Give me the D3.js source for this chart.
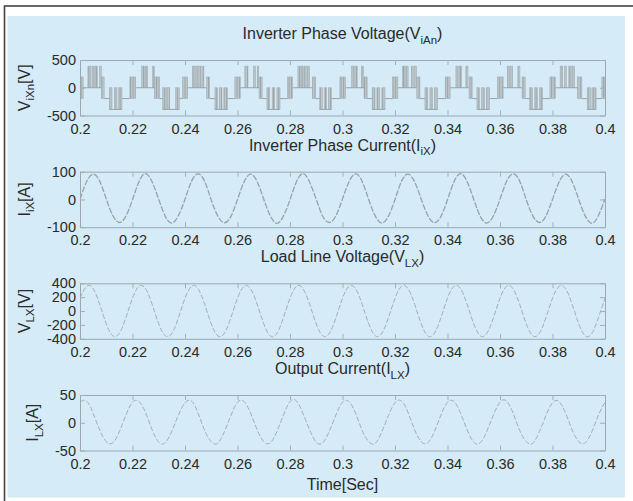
<!DOCTYPE html>
<html>
<head>
<meta charset="utf-8">
<script src="https://cdn.jsdelivr.net/npm/d3@7"></script>
<style>
  body { margin: 0; background: #fff; }
  text { font-family: "Liberation Sans", Arial, sans-serif; fill: #2a2a2a; }
</style>
</head>
<body>
<div id="wrapper"></div>
<script>
// ---- data ----
const xTicks = [0.2, 0.22, 0.24, 0.26, 0.28, 0.3, 0.32, 0.34, 0.36, 0.38, 0.4];
const xTickLabels = ["0.2", "0.22", "0.24", "0.26", "0.28", "0.3", "0.32", "0.34", "0.36", "0.38", "0.4"];

const vInvTicks = [-500, 0, 500];
const iInvTicks = [-100, 0, 100];
const vLineTicks = [-400, -200, 0, 200, 400];
const iOutTicks = [-50, 0, 50];

// inverter phase voltage: switching blocks [t0, t1], levels in volts
const vPosLevels = [0, 390];
const vMidLevels = [-195, 195];
const vNegLevels = [-390, 0];

const vPosBars = [
  [0.2030, 0.2042], [0.2046, 0.2055], [0.2058, 0.2066], [0.2075, 0.2081],
  [0.2235, 0.2246], [0.2249, 0.2258], [0.2276, 0.2283],
  [0.2428, 0.2438], [0.2441, 0.2449], [0.2452, 0.2460], [0.2464, 0.2472],
  [0.2628, 0.2640], [0.2660, 0.2668], [0.2675, 0.2681],
  [0.2830, 0.2840], [0.2843, 0.2851], [0.2854, 0.2862], [0.2866, 0.2874],
  [0.3035, 0.3044], [0.3047, 0.3056], [0.3072, 0.3080],
  [0.3228, 0.3238], [0.3241, 0.3250], [0.3262, 0.3270], [0.3274, 0.3281],
  [0.3432, 0.3441], [0.3445, 0.3454], [0.3470, 0.3478],
  [0.3628, 0.3637], [0.3640, 0.3648], [0.3668, 0.3676],
  [0.3829, 0.3839], [0.3846, 0.3853], [0.3862, 0.3872], [0.3876, 0.3884]
];
const vMidBars = [
  [0.2000, 0.2012], [0.2081, 0.2092],
  [0.2190, 0.2212], [0.2283, 0.2303],
  [0.2391, 0.2410], [0.2482, 0.2494],
  [0.2590, 0.2611], [0.2682, 0.2694],
  [0.2790, 0.2810], [0.2885, 0.2898],
  [0.2990, 0.3012], [0.3082, 0.3094],
  [0.3190, 0.3211], [0.3283, 0.3295],
  [0.3391, 0.3410], [0.3482, 0.3494],
  [0.3590, 0.3612], [0.3684, 0.3696],
  [0.3790, 0.3811], [0.3895, 0.3912],
  [0.3988, 0.4000]
];
const vNegBars = [
  [0.2112, 0.2122], [0.2131, 0.2141], [0.2147, 0.2160],
  [0.2315, 0.2326], [0.2330, 0.2342], [0.2364, 0.2378],
  [0.2514, 0.2524], [0.2530, 0.2541], [0.2548, 0.2562],
  [0.2712, 0.2723], [0.2732, 0.2742], [0.2750, 0.2762],
  [0.2913, 0.2923], [0.2930, 0.2940], [0.2946, 0.2958],
  [0.3113, 0.3124], [0.3131, 0.3142], [0.3150, 0.3162],
  [0.3314, 0.3325], [0.3333, 0.3343], [0.3350, 0.3362],
  [0.3512, 0.3522], [0.3530, 0.3541], [0.3548, 0.3560],
  [0.3713, 0.3724], [0.3732, 0.3743], [0.3750, 0.3762],
  [0.3932, 0.3944], [0.3950, 0.3966]
];
// flat stretches [t0, t1, volts]
const vFlats = [
  [0.2012, 0.2081, 0], [0.2092, 0.2112, -195], [0.2112, 0.2160, -390], [0.2160, 0.2190, -195],
  [0.2212, 0.2283, 0], [0.2303, 0.2315, -195], [0.2315, 0.2378, -390], [0.2378, 0.2391, -195],
  [0.2410, 0.2482, 0], [0.2494, 0.2514, -195], [0.2514, 0.2562, -390], [0.2562, 0.2590, -195],
  [0.2611, 0.2682, 0], [0.2694, 0.2712, -195], [0.2712, 0.2762, -390], [0.2762, 0.2790, -195],
  [0.2810, 0.2885, 0], [0.2898, 0.2913, -195], [0.2913, 0.2958, -390], [0.2958, 0.2990, -195],
  [0.3012, 0.3082, 0], [0.3094, 0.3113, -195], [0.3113, 0.3162, -390], [0.3162, 0.3190, -195],
  [0.3211, 0.3283, 0], [0.3295, 0.3314, -195], [0.3314, 0.3362, -390], [0.3362, 0.3391, -195],
  [0.3410, 0.3482, 0], [0.3494, 0.3512, -195], [0.3512, 0.3560, -390], [0.3560, 0.3590, -195],
  [0.3612, 0.3684, 0], [0.3696, 0.3713, -195], [0.3713, 0.3762, -390], [0.3762, 0.3790, -195],
  [0.3811, 0.3895, 0], [0.3912, 0.3932, -195], [0.3932, 0.3966, -390], [0.3966, 0.3988, -195]
];

// sampled waveforms, one value every 2.5 ms from t = 0.2
const sampleStart = 0.2;
const sampleStep = 0.0025;

const iInv = [
  0, 64, 91, 66, 2, -58, -83, -60,
  -1, 65, 93, 63, 0, -61, -85, -58,
  1, 66, 92, 65, -2, -60, -84, -61,
  0, 63, 91, 64, 1, -59, -86, -60,
  -1, 65, 93, 62, 0, -61, -83, -59,
  2, 64, 92, 65, -1, -60, -85, -60,
  0, 66, 91, 63, 1, -58, -84, -61,
  -1, 64, 93, 64, 0, -61, -85, -59,
  1, 65, 92, 66, -1, -59, -83, -60,
  0, 63, 91, 64, 0, -60, -86, -58,
  2
];
const vLine = [
  185, 356, 322, 97, -184, -358, -319, -95,
  186, 358, 320, 95, -186, -356, -321, -97,
  184, 357, 321, 96, -185, -357, -320, -96,
  185, 356, 319, 97, -184, -358, -322, -95,
  186, 358, 320, 95, -186, -357, -320, -97,
  185, 357, 321, 96, -185, -356, -319, -96,
  184, 356, 320, 97, -184, -358, -321, -95,
  186, 358, 322, 95, -186, -357, -320, -97,
  185, 357, 319, 96, -185, -356, -320, -96,
  184, 356, 321, 97, -184, -358, -321, -95,
  185
];
const iOut = [
  37, 39, 17, -13, -34, -36, -16, 14,
  37, 38, 18, -13, -35, -36, -15, 14,
  36, 39, 17, -14, -34, -37, -16, 13,
  37, 38, 17, -13, -34, -36, -16, 14,
  38, 39, 16, -13, -35, -36, -15, 14,
  37, 38, 17, -14, -34, -37, -16, 13,
  36, 39, 18, -13, -34, -36, -16, 14,
  37, 38, 17, -13, -35, -36, -15, 14,
  37, 39, 17, -14, -34, -37, -16, 13,
  36, 38, 17, -13, -34, -36, -16, 14,
  37
];

// ---- layout ----
const width = 633, height = 501;
const axLeft = 80, axRight = 605;
const axTops = [60, 171.7, 283.3, 395];
const axHeight = 55.5;
const tickSize = 14.5;
const labelSize = 16;

const svg = d3.select("#wrapper").append("svg")
  .attr("width", width).attr("height", height);

const defs = svg.append("defs");
const pat = defs.append("pattern")
  .attr("id", "stripes").attr("patternUnits", "userSpaceOnUse")
  .attr("width", 2.6).attr("height", 10);
pat.append("rect").attr("width", 2.6).attr("height", 10).attr("fill", "#bdc6cb");
pat.append("rect").attr("width", 1).attr("height", 10).attr("fill", "#9aa5aa");

svg.append("rect").attr("width", width).attr("height", height).attr("fill", "#fff");
svg.append("rect")
  .attr("x", 4.5).attr("y", 6).attr("width", 700).attr("height", 600)
  .attr("fill", "#fff").attr("stroke", "#444").attr("stroke-width", 1.6);
svg.append("rect")
  .attr("x", 7.5).attr("y", 16).attr("width", 617.5).attr("height", 481.5)
  .attr("fill", "#d5ebf7");

const x = d3.scaleLinear().domain([0.2, 0.4]).range([axLeft, axRight]);
const sampleTime = (d, i) => sampleStart + i * sampleStep;

function addLabel(sel, parts) {
  // parts: [main, sub, rest]
  sel.append("tspan").text(parts[0]);
  sel.append("tspan").attr("dy", 4.5).attr("font-size", 11.5).text(parts[1]);
  sel.append("tspan").attr("dy", -4.5).text(parts[2]);
}

const panels = [
  { domain: [-500, 500], ticks: vInvTicks, title: ["Inverter Phase Voltage(V", "iAn", ")"], ylabel: ["V", "iXn", "[V]"] },
  { domain: [-100, 100], ticks: iInvTicks, title: ["Inverter Phase Current(I", "iX", ")"], ylabel: ["I", "iX", "[A]"] },
  { domain: [-400, 400], ticks: vLineTicks, title: ["Load Line Voltage(V", "LX", ")"], ylabel: ["V", "LX", "[V]"] },
  { domain: [-50, 50], ticks: iOutTicks, title: ["Output Current(I", "LX", ")"], ylabel: ["I", "LX", "[A]"] }
];

panels.forEach((p, k) => {
  const top = axTops[k];
  const y = d3.scaleLinear().domain(p.domain).range([top + axHeight, top]);
  p.y = y;

  const clipId = "clip" + k;
  defs.append("clipPath").attr("id", clipId)
    .append("rect").attr("x", axLeft).attr("y", top)
    .attr("width", axRight - axLeft).attr("height", axHeight);
  p.plot = svg.append("g").attr("clip-path", `url(#${clipId})`);

  // axes (ticks inward on all four sides)
  const gx = svg.append("g").attr("transform", `translate(0,${top + axHeight})`)
    .call(d3.axisBottom(x).tickValues(xTicks).tickFormat((d, i) => xTickLabels[i])
      .tickSize(-5).tickSizeOuter(0).tickPadding(8));
  const gxt = svg.append("g").attr("transform", `translate(0,${top})`)
    .call(d3.axisTop(x).tickValues(xTicks).tickFormat("").tickSize(-5).tickSizeOuter(0));
  const gy = svg.append("g").attr("transform", `translate(${axLeft},0)`)
    .call(d3.axisLeft(y).tickValues(p.ticks).tickFormat(d => String(d))
      .tickSize(-5).tickSizeOuter(0).tickPadding(4));
  const gyr = svg.append("g").attr("transform", `translate(${axRight},0)`)
    .call(d3.axisRight(y).tickValues(p.ticks).tickFormat("").tickSize(-5).tickSizeOuter(0));

  [gx, gxt, gy, gyr].forEach(g => {
    g.select(".domain").attr("stroke", "#9ba8af");
    g.selectAll(".tick line").attr("stroke", "#a3afb6");
    g.selectAll("text").attr("font-size", tickSize).attr("fill", "#2a2a2a")
      .attr("font-family", "Liberation Sans, Arial, sans-serif");
  });

  // title
  const t = svg.append("text")
    .attr("x", (axLeft + axRight) / 2).attr("y", top - 21)
    .attr("text-anchor", "middle").attr("font-size", labelSize);
  addLabel(t, p.title);

  // y label, left of the widest tick label
  const tickLeft = gy.node().getBBox().x + axLeft;
  const yl = svg.append("text")
    .attr("transform", `translate(${tickLeft - 17},${top + axHeight / 2}) rotate(-90)`)
    .attr("text-anchor", "middle").attr("font-size", labelSize);
  addLabel(yl, p.ylabel);
});

// ---- panel 1: inverter phase voltage ----
const y1 = panels[0].y;
const g1 = panels[0].plot;
function drawBars(bars, levels) {
  g1.selectAll(null).data(bars).enter().append("rect")
    .attr("x", d => x(d[0]))
    .attr("width", d => Math.max(0.8, x(d[1]) - x(d[0])))
    .attr("y", y1(levels[1]))
    .attr("height", y1(levels[0]) - y1(levels[1]))
    .attr("fill", "url(#stripes)")
    .attr("stroke", "#a2acb1").attr("stroke-width", 0.5);
}
drawBars(vPosBars, vPosLevels);
drawBars(vMidBars, vMidLevels);
drawBars(vNegBars, vNegLevels);
g1.selectAll(null).data(vFlats).enter().append("line")
  .attr("x1", d => x(d[0])).attr("x2", d => x(d[1]))
  .attr("y1", d => y1(d[2])).attr("y2", d => y1(d[2]))
  .attr("stroke", "#9aa5aa").attr("stroke-width", 1);

// ---- panels 2-4: sampled waveforms ----
function drawWave(k, values, color, w, dash) {
  const y = panels[k].y;
  const line = d3.line()
    .x((d, i) => x(sampleTime(d, i)))
    .y(d => y(d))
    .curve(d3.curveNatural);
  panels[k].plot.append("path")
    .attr("d", line(values))
    .attr("fill", "none")
    .attr("stroke", color)
    .attr("stroke-width", w)
    .attr("stroke-dasharray", dash);
}
drawWave(1, iInv, "#98a3a9", 1.3, "6,1.5");
drawWave(2, vLine, "#a4aeb3", 1, "5,2");
drawWave(3, iOut, "#a4aeb3", 1, "5,2");

// x label
svg.append("text")
  .attr("x", (axLeft + axRight) / 2).attr("y", 490)
  .attr("text-anchor", "middle").attr("font-size", labelSize)
  .text("Time[Sec]");
</script>
</body>
</html>
